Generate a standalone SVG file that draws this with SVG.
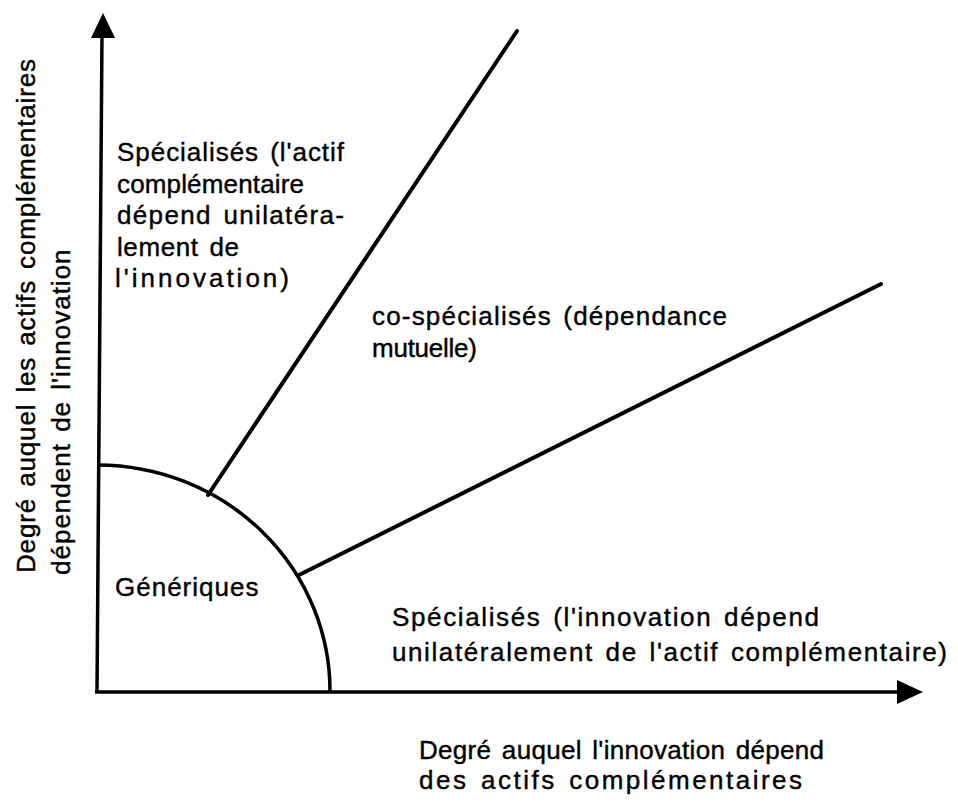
<svg xmlns="http://www.w3.org/2000/svg" width="958" height="803" viewBox="0 0 958 803">
<style>
.t{font-family:"Liberation Sans",Arial,Helvetica,sans-serif;font-size:26px;fill:#000;stroke:#000;stroke-width:0.4;letter-spacing:1px;word-spacing:3px}
.ax{stroke:#000;stroke-width:3.5;fill:none}
.ln{stroke:#000;stroke-width:4;fill:none;stroke-linecap:round}
</style>
<rect width="958" height="803" fill="#fff"/>
<g id="connectors">
<line class="ax" x1="97" y1="692" x2="102" y2="34"/>
<polygon points="103,13 91,38 115,38" fill="#000"/>
<line class="ax" x1="95" y1="692" x2="900" y2="692"/>
<polygon points="923,692 897,680 897,704" fill="#000"/>
<path class="ax" d="M98,465 A233,226 0 0 1 330,692" stroke-width="3"/>
<line class="ln" x1="208" y1="495" x2="517" y2="31"/>
<line class="ln" x1="299" y1="575" x2="881" y2="284"/>
</g>
<g id="node-y-label">
<text class="t" transform="translate(35,573) rotate(-90)" textLength="515" lengthAdjust="spacing">Degré auquel les actifs complémentaires</text>
<text class="t" transform="translate(70,575) rotate(-90)">dépendent de l'innovation</text>
</g>
<g id="node-x-label">
<text class="t" x="419" y="759" textLength="406" lengthAdjust="spacing">Degré auquel l'innovation dépend</text>
<text class="t" x="419" y="789" textLength="384" lengthAdjust="spacing">des actifs  complémentaires</text>
</g>
<g id="node-specialises-top">
<text class="t" x="117" y="161" textLength="228" lengthAdjust="spacing">Spécialisés (l'actif</text>
<text class="t" x="117" y="192.5" textLength="188" lengthAdjust="spacing">complémentaire</text>
<text class="t" x="117" y="224" textLength="228" lengthAdjust="spacing">dépend unilatéra-</text>
<text class="t" x="117" y="255.5" textLength="123" lengthAdjust="spacing">lement de</text>
<text class="t" x="115" y="287" textLength="175" lengthAdjust="spacing">l'innovation)</text>
</g>
<g id="node-cospecialises">
<text class="t" x="372" y="325" textLength="356" lengthAdjust="spacing">co-spécialisés (dépendance</text>
<text class="t" x="372" y="357" textLength="106" lengthAdjust="spacing">mutuelle)</text>
</g>
<g id="node-generiques">
<text class="t" x="115" y="596">Génériques</text>
</g>
<g id="node-specialises-bottom">
<text class="t" x="392" y="626" textLength="428" lengthAdjust="spacing">Spécialisés (l'innovation dépend</text>
<text class="t" x="392" y="661" textLength="556" lengthAdjust="spacing">unilatéralement de l'actif complémentaire)</text>
</g>
</svg>
